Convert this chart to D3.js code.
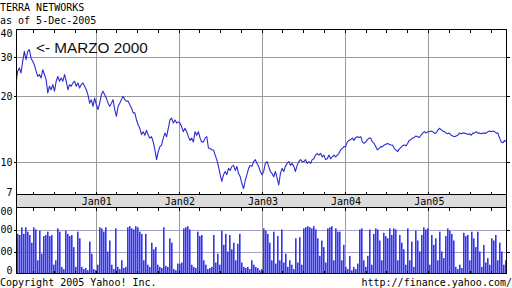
<!DOCTYPE html>
<html><head><meta charset="utf-8">
<script src="https://cdn.jsdelivr.net/npm/d3@7"></script>
<style>html,body{margin:0;padding:0;background:#fff;}svg{display:block;}</style>
</head><body>
<script>
const titleLines = ["TERRA NETWORKS", "as of 5-Dec-2005"];
const annotation = "<- MARZO 2000";
const footerLeft = "Copyright 2005 Yahoo! Inc.";
const footerRight = "http://finance.yahoo.com/";
const priceTicks = [40, 30, 20, 10, 7];
const priceGrid = [30, 20, 10];
const volumeTicks = [0, 100, 200, 300];
const volumeGrid = [100, 200];
const yearLabels = ["Jan01", "Jan02", "Jan03", "Jan04", "Jan05"];
const yearDates = ["2001-01-01", "2002-01-01", "2003-01-01", "2004-01-01", "2005-01-01"];
const axisStart = "2000-01-12", axisEnd = "2005-12-08";
const seriesStart = "2000-01-12", seriesEnd = "2005-12-05";

// closing prices, evenly spaced samples from seriesStart to seriesEnd
const closePrices = [
23.0,26.0,26.9,25.5,28.8,32.0,29.3,32.0,32.6,29.8,
28.8,27.8,26.0,24.6,25.1,24.2,26.4,25.1,23.8,20.7,
22.2,21.4,22.6,21.1,23.4,24.6,23.4,24.2,23.4,25.1,
23.4,21.4,22.6,22.2,23.0,23.4,22.2,23.0,21.8,22.6,
23.0,22.2,21.4,20.3,18.6,19.3,18.0,19.6,18.3,17.4,
18.6,20.3,21.1,20.3,19.6,18.6,18.0,18.6,19.3,17.4,
16.2,18.0,18.6,19.3,20.0,19.3,19.0,19.0,18.3,17.7,
16.8,16.8,15.6,14.8,14.3,13.4,
13.8,13.3,14.0,13.3,12.9,13.1,12.4,11.4,10.3,11.2,
11.8,12.0,12.9,13.6,13.1,14.3,15.6,15.9,15.1,15.6,
15.1,15.3,15.1,14.5,13.8,14.3,13.8,13.1,12.6,12.9,
12.4,13.8,13.3,13.8,12.9,12.4,12.4,12.9,13.1,11.6,
11.6,11.4,11.4,10.8,10.3,9.6,8.8,8.2,8.8,9.1,
8.8,9.4,9.2,9.6,9.7,9.2,9.6,8.9,8.6,8.0,
7.6,8.3,8.8,9.4,9.7,9.6,10.1,10.3,9.9,9.6,
9.1,8.8,9.1,
9.9,10.1,9.6,9.1,8.9,8.6,9.1,8.5,7.9,8.9,
9.4,9.1,9.6,9.9,10.1,9.7,9.9,9.6,9.1,9.7,
10.1,10.3,10.1,10.1,10.3,9.9,10.1,9.9,10.3,10.4,
10.8,11.0,10.8,11.0,10.6,10.8,10.3,10.4,10.8,10.4,
10.6,10.8,10.6,10.8,11.0,11.4,11.6,11.8,11.8,12.4,
12.6,12.7,12.9,12.6,13.0,13.1,13.0,13.1,12.4,12.2,
12.4,12.7,12.9,12.9,12.4,12.2,11.8,11.4,11.6,11.8,
11.8,12.0,12.1,12.2,
12.1,12.0,12.0,11.6,11.4,11.2,11.5,11.7,11.9,12.0,
11.9,12.2,12.6,12.7,12.9,13.0,13.2,13.1,13.0,13.3,
13.6,13.8,13.6,13.8,13.8,13.9,13.8,13.6,13.6,14.0,
14.3,14.1,13.9,13.8,13.6,13.5,13.6,13.3,13.2,13.1,
13.2,13.3,13.6,13.5,13.6,13.6,13.5,13.4,13.5,13.3,
13.6,13.6,13.8,13.6,13.6,13.5,13.6,13.6,13.6,13.8,
13.9,13.8,13.9,13.8,13.6,13.6,12.9,12.4,12.3,12.6,
12.4
];

// volume, evenly spaced samples from seriesStart to seriesEnd
const volumes = [
180,180,175,210,180,210,190,175,140,210,
200,60,195,90,170,175,190,170,175,40,
60,205,190,30,20,195,180,170,175,120,
30,190,160,30,20,25,15,145,90,20,
15,40,210,205,190,210,100,150,40,20,
205,30,20,60,25,30,210,215,205,200,
215,210,190,180,60,180,40,30,140,110,
120,40,30,25,210,35,30,
160,140,20,15,45,45,50,205,210,215,
200,40,30,25,190,170,175,60,40,20,
25,30,175,50,90,40,195,130,180,100,
175,110,140,60,135,180,50,30,25,30,
20,60,40,30,25,15,20,205,195,180,
140,60,190,45,170,60,200,50,90,30,
60,40,20,160,50,165,40,205,210,215,
210,205,215,200,160,80,150,120,50,205,
210,215,60,205,190,
190,60,130,30,20,80,15,30,20,45,
200,205,60,30,80,200,40,180,205,200,
150,60,185,170,160,205,175,205,200,60,
175,140,110,40,205,60,145,30,195,150,
100,175,210,200,205,40,175,130,160,60,
190,100,70,170,205,195,180,150,30,20,
40,25,185,170,175,60,190,160,120,190,
100,30,130,50,70,40,160,150,175,60,
140,100,40,60
];

const W = 512, H = 288;
const L = 16.5, R = 506.5;
const pTop = 29.5, pBot = 194.5, bandBot = 207.5, vBot = 273.5;
const parse = d3.utcParse("%Y-%m-%d");
const mono = "'DejaVu Sans Mono', monospace";

const x = d3.scaleUtc().domain([parse(axisStart), parse(axisEnd)]).range([16, 507]);
const yP = d3.scaleLog().domain([7.151, 40.21]).range([pBot, pTop]);
const yV = d3.scaleLinear().domain([0, 300]).range([vBot, bandBot]);

const t0 = parse(seriesStart).getTime(), t1 = parse(seriesEnd).getTime();
const priceData = closePrices.map((v, i) => ({d: new Date(t0 + (t1 - t0) * i / (closePrices.length - 1)), v}));
const volData = volumes.map((v, i) => ({d: new Date(t0 + (t1 - t0) * i / (volumes.length - 1)), v}));

const svg = d3.select("body").append("svg").attr("width", W).attr("height", H);
const defs = svg.append("defs");
defs.append("clipPath").attr("id", "cp").append("rect").attr("x", L).attr("y", pTop).attr("width", R - L).attr("height", pBot - pTop);
defs.append("clipPath").attr("id", "cv").append("rect").attr("x", L).attr("y", bandBot).attr("width", R - L).attr("height", vBot - bandBot);

const snap = v => Math.round(v) - 0.5;

svg.append("rect").attr("x", L).attr("y", pBot).attr("width", R - L).attr("height", bandBot - pBot).attr("fill", "#dcdcdc");

const grid = svg.append("g").attr("stroke", "#9a9a9a").attr("stroke-width", 1).attr("shape-rendering", "crispEdges");
priceGrid.forEach(v => grid.append("line").attr("x1", L).attr("x2", R).attr("y1", snap(yP(v)) + 0.5).attr("y2", snap(yP(v)) + 0.5));
yearDates.forEach(d => {
  const xx = snap(x(parse(d)));
  grid.append("line").attr("x1", xx).attr("x2", xx).attr("y1", pTop).attr("y2", pBot);
  grid.append("line").attr("x1", xx).attr("x2", xx).attr("y1", bandBot).attr("y2", vBot);
});
const vgrid = svg.append("g").attr("stroke", "#a2a2c8").attr("stroke-width", 1).attr("shape-rendering", "crispEdges");
volumeGrid.forEach(v => vgrid.append("line").attr("x1", L).attr("x2", R).attr("y1", snap(yV(v)) + 0.5).attr("y2", snap(yV(v)) + 0.5));

svg.append("g").attr("clip-path", "url(#cv)").selectAll("rect").data(volData).join("rect")
  .attr("x", d => Math.round(x(d.d)) - 1).attr("width", 1.6)
  .attr("y", d => yV(d.v)).attr("height", d => yV(0) - yV(d.v))
  .attr("fill", "#3434ee");

svg.append("path").datum(priceData).attr("clip-path", "url(#cp)")
  .attr("d", d3.line().x(d => x(d.d)).y(d => yP(d.v)))
  .attr("fill", "none").attr("stroke", "#2b2bd2").attr("stroke-width", 1.1).attr("stroke-linejoin", "round");

const fr = svg.append("g").attr("fill", "none").attr("stroke", "#000").attr("stroke-width", 1).attr("shape-rendering", "crispEdges");
fr.append("rect").attr("x", L).attr("y", pTop).attr("width", R - L).attr("height", pBot - pTop);
fr.append("rect").attr("x", L).attr("y", pBot).attr("width", R - L).attr("height", bandBot - pBot);
fr.append("rect").attr("x", L).attr("y", bandBot).attr("width", R - L).attr("height", vBot - bandBot);

const qt = d3.utcMonth.every(3).range(parse(axisStart), parse(axisEnd));
qt.forEach(d => {
  const xx = snap(x(d));
  [[pTop, pTop + 3], [pBot, pBot - 3], [bandBot, bandBot + 3], [vBot, vBot - 3]].forEach(([a, b]) =>
    fr.append("line").attr("x1", xx).attr("x2", xx).attr("y1", a).attr("y2", b));
});
priceGrid.forEach(v => {
  const yy = snap(yP(v)) + 0.5;
  fr.append("line").attr("x1", L - 3).attr("x2", L).attr("y1", yy).attr("y2", yy);
  fr.append("line").attr("x1", R).attr("x2", R + 3).attr("y1", yy).attr("y2", yy);
});
volumeGrid.forEach(v => {
  const yy = snap(yV(v)) + 0.5;
  fr.append("line").attr("x1", L - 3).attr("x2", L).attr("y1", yy).attr("y2", yy);
  fr.append("line").attr("x1", R).attr("x2", R + 3).attr("y1", yy).attr("y2", yy);
});

const txt = svg.append("g").attr("font-family", mono).attr("font-size", 10).attr("fill", "#000");
priceTicks.forEach(v => {
  const c = Math.max(33, Math.min(192.5, yP(v)));
  txt.append("text").attr("x", 12.5).attr("y", c + 3.6).attr("text-anchor", "end").text(v);
});
volumeTicks.forEach(v => {
  const c = Math.max(211.8, Math.min(270.5, yV(v)));
  txt.append("text").attr("x", 12.5).attr("y", c + 3.6).attr("text-anchor", "end").text(v);
});
yearLabels.forEach((l, i) => {
  txt.append("text").attr("x", x(parse(yearDates[i]))).attr("y", 204.5).attr("text-anchor", "middle").text(l);
});
txt.append("text").attr("x", 0).attr("y", 11).text(titleLines[0]);
txt.append("text").attr("x", 0).attr("y", 24).text(titleLines[1]);
txt.append("text").attr("x", 0).attr("y", 285.5).text(footerLeft);
txt.append("text").attr("x", 512).attr("y", 285.5).attr("text-anchor", "end").text(footerRight);

svg.append("text").attr("x", 36).attr("y", 53.3).attr("font-family", "'Liberation Sans', Arial, sans-serif")
  .attr("font-size", 15.3).attr("fill", "#111").text(annotation);
</script>
</body></html>
